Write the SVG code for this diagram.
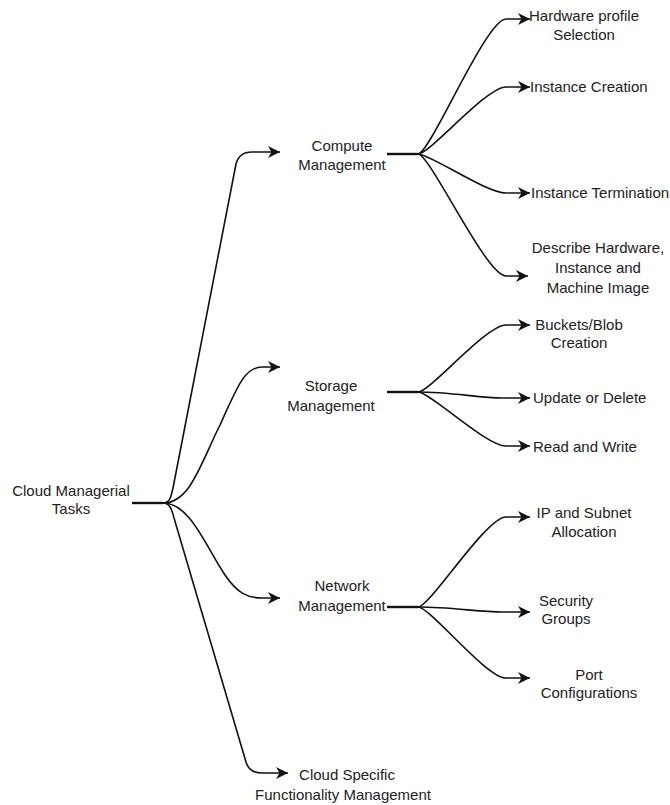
<svg xmlns="http://www.w3.org/2000/svg" width="670" height="805" viewBox="0 0 670 805">
<style>
text{font-family:"Liberation Sans",Arial,sans-serif;font-size:15px;fill:#222}
.m{text-anchor:middle}
.e{fill:none;stroke:#111;stroke-width:1.6}
.t{fill:none;stroke:#111;stroke-width:2.4}
</style>
<defs>
<marker id="ah" markerUnits="userSpaceOnUse" markerWidth="14" markerHeight="12" refX="12" refY="6" orient="auto">
<path d="M0,0 L12,6 L0,12 L3.5,6 Z" fill="#111"/>
</marker>
</defs>
<rect width="670" height="805" fill="#fff"/>
<g id="connectors">
<path class="t" d="M132,503 L163,503"/>
<path class="e" d="M163,503 C170,503 171,497 173,488 L236,164 Q239,152 252,152 L280,152" marker-end="url(#ah)"/>
<path class="e" d="M163,503 C190,503 200,465 220,425 C238,385 245,367 262,367 L280,367" marker-end="url(#ah)"/>
<path class="e" d="M163,503 C190,503 205,545 225,575 C238,594 248,598 262,598 L280,598" marker-end="url(#ah)"/>
<path class="e" d="M163,503 C170,503 172,510 174,518 L246,762 Q249,773 262,773 L288,773" marker-end="url(#ah)"/>
<path class="t" d="M387,154 L418,154"/>
<path class="e" d="M418,154 C430,154 486,19 506,19 L530,19" marker-end="url(#ah)"/>
<path class="e" d="M418,154 C430,154 486,87 506,87 L530,87" marker-end="url(#ah)"/>
<path class="e" d="M418,154 C430,154 486,193 506,193 L530,193" marker-end="url(#ah)"/>
<path class="e" d="M418,154 C430,154 486,276 506,276 L528,276" marker-end="url(#ah)"/>
<path class="t" d="M387,392 L418,392"/>
<path class="e" d="M418,392 C430,392 486,325 506,325 L530,325" marker-end="url(#ah)"/>
<path class="e" d="M418,392 C450,392 480,398 502,398 L530,398" marker-end="url(#ah)"/>
<path class="e" d="M418,392 C430,392 486,446 506,446 L530,446" marker-end="url(#ah)"/>
<path class="t" d="M387,607 L418,607"/>
<path class="e" d="M418,607 C430,607 486,517 506,517 L530,517" marker-end="url(#ah)"/>
<path class="e" d="M418,607 C450,607 480,612 502,612 L530,612" marker-end="url(#ah)"/>
<path class="e" d="M418,607 C430,607 486,678 506,678 L530,678" marker-end="url(#ah)"/>
</g>
<g id="root"><text class="m" x="71" y="496">Cloud Managerial</text><text class="m" x="71" y="514">Tasks</text></g>
<g id="compute"><text class="m" x="342" y="151">Compute</text><text class="m" x="342" y="170">Management</text></g>
<g id="storage"><text class="m" x="331" y="391">Storage</text><text class="m" x="331" y="411">Management</text></g>
<g id="network"><text class="m" x="342" y="591">Network</text><text class="m" x="342" y="611">Management</text></g>
<g id="cloudspecific"><text class="m" x="347" y="780">Cloud Specific</text><text class="m" x="343" y="800">Functionality Management</text></g>
<g id="hwprofile"><text class="m" x="584" y="21">Hardware profile</text><text class="m" x="584" y="40">Selection</text></g>
<g id="instcreate"><text x="530" y="92">Instance Creation</text></g>
<g id="insterm"><text x="531" y="198">Instance Termination</text></g>
<g id="describe"><text class="m" x="598" y="253">Describe Hardware,</text><text class="m" x="598" y="273">Instance and</text><text class="m" x="598" y="293">Machine Image</text></g>
<g id="buckets"><text class="m" x="579" y="330">Buckets/Blob</text><text class="m" x="579" y="348">Creation</text></g>
<g id="update"><text x="533" y="403">Update or Delete</text></g>
<g id="readwrite"><text x="533" y="452">Read and Write</text></g>
<g id="ipsubnet"><text class="m" x="584" y="518">IP and Subnet</text><text class="m" x="584" y="537">Allocation</text></g>
<g id="security"><text class="m" x="566" y="606">Security</text><text class="m" x="566" y="624">Groups</text></g>
<g id="port"><text class="m" x="589" y="680">Port</text><text class="m" x="589" y="698">Configurations</text></g>
</svg>
